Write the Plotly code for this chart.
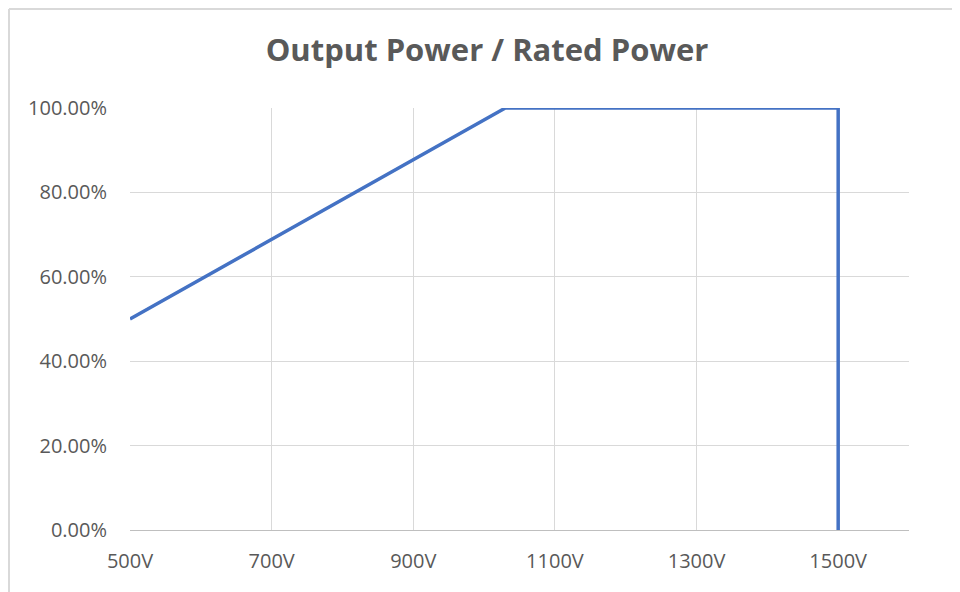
import plotly.graph_objects as go

voltage = [500, 1030, 1500, 1500]
power_ratio = [0.50, 1.00, 1.00, 0.00]
x_ticks = [500, 700, 900, 1100, 1300, 1500]
x_tick_labels = ["500V", "700V", "900V", "1100V", "1300V", "1500V"]
y_ticks = [0, 0.2, 0.4, 0.6, 0.8, 1.0]

fig = go.Figure()
fig.add_trace(go.Scatter(
    x=voltage, y=power_ratio, mode="lines",
    line=dict(color="#4472C4", width=3.5),
    showlegend=False, hoverinfo="skip",
))

W, H = 952, 584
font_family = "Open Sans, Liberation Sans, sans-serif"
fig.update_layout(
    width=W, height=H,
    margin=dict(l=122, r=51, t=100, b=62),
    paper_bgcolor="white", plot_bgcolor="white",
    title=dict(text="<b>Output Power / Rated Power</b>", x=479/W, xref="container",
               xanchor="center", y=1-42/H, yref="container", yanchor="middle",
               font=dict(family=font_family, size=31, color="#595959")),
    xaxis=dict(range=[500, 1600], tickvals=x_ticks, ticktext=x_tick_labels,
               showgrid=True, gridcolor="#d9d9d9", gridwidth=1,
               showline=True, linecolor="#bfbfbf", linewidth=1,
               zeroline=False, ticks="", ticklabelstandoff=13,
               tickfont=dict(family=font_family, size=20, color="#595959")),
    yaxis=dict(range=[0, 1.0], tickvals=y_ticks, tickformat=".2%",
               showgrid=True, gridcolor="#d9d9d9", gridwidth=1,
               showline=False, zeroline=False, ticks="", ticklabelstandoff=22,
               tickfont=dict(family=font_family, size=20, color="#595959")),
    shapes=[
        dict(type="line", xref="paper", yref="paper", x0=-121/779, x1=-121/779,
             y0=-2, y1=(422+99)/422, line=dict(color="#d9d9d9", width=2)),
        dict(type="line", xref="paper", yref="paper", x0=-121/779, x1=2,
             y0=(422+99)/422, y1=(422+99)/422, line=dict(color="#d9d9d9", width=2)),
    ],
)
fig.write_html("out.html")
